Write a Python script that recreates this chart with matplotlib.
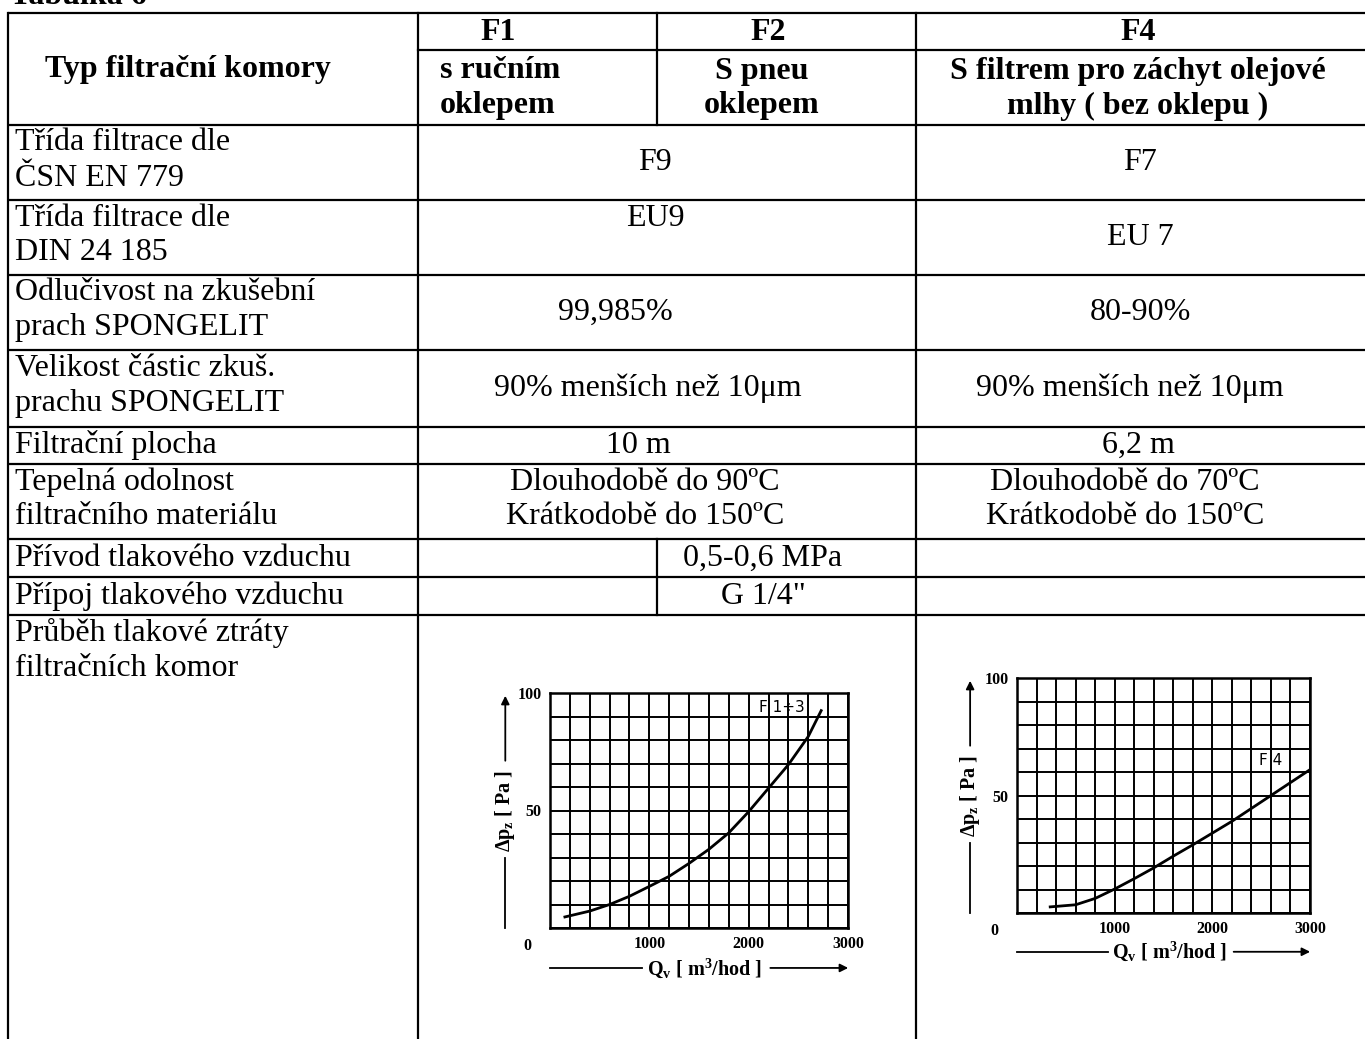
import numpy as np
import matplotlib.pyplot as plt

plt.rcParams['font.family'] = ['Liberation Serif', 'DejaVu Serif']
plt.rcParams['mathtext.fontset'] = 'custom'
plt.rcParams['mathtext.rm'] = 'Liberation Serif:bold'
plt.rcParams['mathtext.it'] = 'Liberation Serif:bold'
plt.rcParams['mathtext.bf'] = 'Liberation Serif:bold'

W, H = 1365, 1039

# table texts
title = "Tabulka 6"
head_first = "Typ filtrační komory"
head_cols = ["F1", "F2", "F4"]
head_sub = [["s ručním", "oklepem"], ["S pneu", "oklepem"],
            ["S filtrem pro záchyt olejové", "mlhy ( bez oklepu )"]]
row_names = [["Třída filtrace dle", "ČSN EN 779"],
             ["Třída filtrace dle", "DIN 24 185"],
             ["Odlučivost na zkušební", "prach SPONGELIT"],
             ["Velikost částic zkuš.", "prachu SPONGELIT"],
             ["Filtrační plocha"],
             ["Tepelná odolnost", "filtračního materiálu"],
             ["Přívod tlakového vzduchu"],
             ["Přípoj tlakového vzduchu"],
             ["Průběh tlakové ztráty", "filtračních komor"]]
val_f12 = [["F9"], ["EU9"], ["99,985%"], ["90% menších než 10μm"], ["10 m"],
           ["Dlouhodobě do 90ºC", "Krátkodobě do 150ºC"]]
val_f2 = ["0,5-0,6 MPa", 'G 1/4"']
val_f4 = [["F7"], ["EU 7"], ["80-90%"], ["90% menších než 10μm"], ["6,2 m"],
          ["Dlouhodobě do 70ºC", "Krátkodobě do 150ºC"]]

# pressure loss curves
q_f13 = [150, 400, 600, 800, 1000, 1200, 1400, 1600, 1800, 2000, 2200, 2400, 2600, 2730]
dp_f13 = [4.7, 7.2, 10, 13.5, 17.7, 22, 27.5, 33.5, 40.5, 49.5, 59.5, 69.5, 81.5, 92.5]
q_f4 = [340, 600, 800, 1000, 1200, 1400, 1600, 1800, 2000, 2200, 2400, 2600, 2800, 3000]
dp_f4 = [2.6, 3.5, 6.2, 10.2, 14.6, 19.2, 24.2, 29, 34, 39, 44.5, 50, 55.5, 61]

fig = plt.figure(figsize=(W / 100, H / 100), dpi=100)
ax = fig.add_axes([0, 0, 1, 1])
ax.set_xlim(0, W)
ax.set_ylim(H, 0)
ax.axis('off')

lw = 1.6
bounds = [125, 200, 275, 350, 427, 464, 539, 577, 615, H]
for y in [13] + bounds[:-1]:
    ax.plot([8, W], [y, y], color='k', lw=lw, solid_capstyle='butt')
ax.plot([418, W], [50, 50], color='k', lw=lw)
for x in [8, 418, 916]:
    ax.plot([x, x], [13, H], color='k', lw=lw)
ax.plot([657, 657], [13, 125], color='k', lw=lw)
ax.plot([657, 657], [539, 615], color='k', lw=lw)

fs = 23
ax.text(10, 4, title, fontsize=fs, fontweight='bold', va='baseline')
ax.text(188, 70, head_first, fontsize=fs, fontweight='bold', ha='center', va='center')
for x, t in zip([498, 768, 1138], head_cols):
    ax.text(x, 32, t, fontsize=fs, fontweight='bold', ha='center', va='center')
ax.text(440, 71, head_sub[0][0], fontsize=fs, fontweight='bold', va='center')
ax.text(440, 106, head_sub[0][1], fontsize=fs, fontweight='bold', va='center')
for x, lines in zip([762, 1138], head_sub[1:]):
    ax.text(x, 71, lines[0], fontsize=fs, fontweight='bold', ha='center', va='center')
    ax.text(x, 106, lines[1], fontsize=fs, fontweight='bold', ha='center', va='center')


def cell(x, top, bot, lines, ha='center', top_align=False):
    if len(lines) == 2 or top_align:
        ys = [top + 18, top + 53][:len(lines)]
    else:
        ys = [(top + bot) / 2]
    for y, t in zip(ys, lines):
        ax.text(x, y, t, fontsize=fs, ha=ha, va='center')


f12_x = [655, 655, 615, 648, 638, 645]
f4_x = [1140, 1140, 1140, 1130, 1138, 1125]
for i, lines in enumerate(row_names):
    cell(15, bounds[i], bounds[i + 1], lines, ha='left')
for i, lines in enumerate(val_f12):
    cell(f12_x[i], bounds[i], bounds[i + 1], lines, top_align=(i == 1))
for i, lines in enumerate(val_f4):
    cell(f4_x[i], bounds[i], bounds[i + 1], lines)
for i, t in enumerate(val_f2):
    cell(763, bounds[6 + i], bounds[7 + i], [t])


def chart(l, t, r, b, q, dp, label, label_xy, ylx, xly):
    a = fig.add_axes([l / W, 1 - b / H, (r - l) / W, (b - t) / H])
    a.plot(q, dp, color='k', lw=2)
    a.set_xlim(0, 3000)
    a.set_ylim(0, 100)
    a.set_xticks(np.arange(0, 3001, 200), minor=True)
    a.set_yticks(np.arange(0, 101, 10), minor=True)
    a.set_xticks([1000, 2000, 3000])
    a.set_yticks([50, 100])
    a.grid(which='both', color='k', lw=1.4)
    a.tick_params(which='both', length=0, labelsize=11.5, pad=6)
    for lab in a.get_xticklabels() + a.get_yticklabels():
        lab.set_fontweight('bold')
    for s in a.spines.values():
        s.set_linewidth(1.8)
    a.annotate('0', xy=(0, 0), xycoords='axes fraction', xytext=(-16, -13),
               textcoords='offset points', fontsize=11.5, fontweight='bold',
               ha='center', va='center')
    a.text(label_xy[0], label_xy[1], label, fontsize=11, family='DejaVu Sans',
           ha='left', va='center')
    # axis titles with arrows
    a.plot([ylx, ylx], [0, 0.3], color='k', lw=1.3, transform=a.transAxes, clip_on=False)
    a.annotate('', xy=(ylx, 1.0), xytext=(ylx, 0.7), xycoords='axes fraction',
               arrowprops=dict(arrowstyle='-|>', color='k', lw=1.3, mutation_scale=12),
               annotation_clip=False)
    a.text(ylx, 0.5, r"Δp$_\mathrm{z}$ [ Pa ]", rotation=90, fontsize=14.5,
           fontweight='bold', ha='center', va='center', transform=a.transAxes)
    a.plot([0.0, 0.31], [xly, xly], color='k', lw=1.3, transform=a.transAxes, clip_on=False)
    a.annotate('', xy=(1.01, xly), xytext=(0.73, xly), xycoords='axes fraction',
               arrowprops=dict(arrowstyle='-|>', color='k', lw=1.3, mutation_scale=12),
               annotation_clip=False)
    a.text(0.52, xly, r"Q$_\mathrm{v}$ [ m$^3$/hod ]", fontsize=14.5,
           fontweight='bold', ha='center', va='center', transform=a.transAxes)
    return a


chart(550, 693, 848, 928, q_f13, dp_f13, "F 1÷3", (2100, 94), -0.15, -0.17)
chart(1017, 678, 1310, 913, q_f4, dp_f4, "F 4", (2480, 65), -0.16, -0.165)

fig.savefig('out.png', dpi=100)
